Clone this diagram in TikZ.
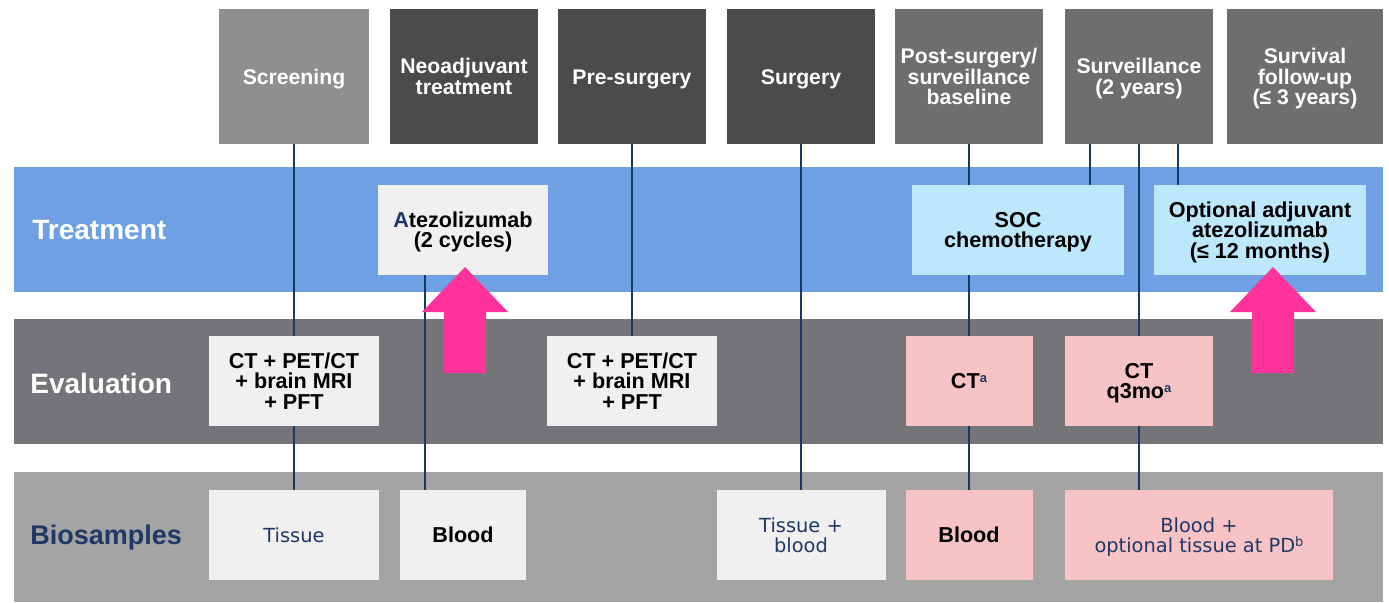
\documentclass[tikz,border=0pt]{standalone}
\usepackage{fontspec}
\setmainfont{Liberation Sans}
\newfontfamily\smpfont{DejaVu Sans}
\usetikzlibrary{positioning,calc}

\definecolor{hdlight}{HTML}{8E8F91}
\definecolor{hddark}{HTML}{4A4B4D}
\definecolor{hdmid}{HTML}{6D6E70}
\definecolor{trtblue}{HTML}{6FA0E4}
\definecolor{evgrey}{HTML}{747578}
\definecolor{biogrey}{HTML}{A4A4A4}
\definecolor{boxlight}{HTML}{F0F0F0}
\definecolor{boxcyan}{HTML}{BDE7FB}
\definecolor{boxpink}{HTML}{F7C3C5}
\definecolor{lnnavy}{HTML}{163A68}
\definecolor{txnavy}{HTML}{1F3864}
\definecolor{arrpink}{HTML}{FF3399}

\newcommand\hdfont{\fontsize{10.6}{10.3}\selectfont\bfseries}
\newcommand\bxfont{\fontsize{10.8}{10.3}\selectfont\bfseries}
\newcommand\bandfont{\fontsize{14}{16}\selectfont\bfseries}
\newcommand\supa[1]{\raisebox{3.2pt}{\fontsize{6.5}{6.5}\selectfont\textcolor{txnavy}{#1}}}
\newcommand\hstrut{\rule{0pt}{9.9pt}}

\begin{document}
\begin{tikzpicture}[x=0.5pt, y=-0.5pt,
  mid/.style={execute at begin node={\hstrut}, execute at end node={\rule[-2.3pt]{0pt}{2.3pt}}},
  hdr/.style={fill=#1, text=white, font=\hdfont, align=center, inner sep=0pt, outer sep=0pt, minimum width=74pt, minimum height=67.5pt, mid},
  cell/.style={fill=#1, font=\bxfont, align=center, inner sep=0pt, outer sep=0pt, minimum height=45pt, mid},
  smp/.style={text=txnavy, font=\smpfont\fontsize{9.7}{10.3}\selectfont},
  bandlbl/.style={font=\bandfont, anchor=west, inner sep=0pt},
  vline/.style={draw=lnnavy, line width=1.3pt},
  pinkarr/.style={fill=arrpink}
]
\useasboundingbox (0,0) rectangle (1389,602);

% bands
\fill[trtblue] (14,167) rectangle (1383,292);
\fill[evgrey] (14,319) rectangle (1383,444);
\fill[biogrey] (14,472) rectangle (1383,602);

\node[bandlbl, text=white] (trtlbl) at (32,230) {Treatment};
\node[bandlbl, text=white] (evlbl) at (30,383) {Evaluation};
\node[bandlbl, text=txnavy, font=\fontsize{13.5}{16}\selectfont\bfseries] (biolbl) at (30,538) {Biosamples};

% phases
\node[hdr=hdlight, minimum width=75pt] (scr) at (294,76.5) {Screening};
\node[hdr=hddark] (neo) at (464,76.5) {\hstrut Neoadjuvant\\treatment};
\node[hdr=hddark] (pre) at (632,76.5) {Pre-surgery};
\node[hdr=hddark] (surg) at (801,76.5) {Surgery};
\node[hdr=hdmid] (post) at (969,76.5) {\hstrut Post-surgery/\\surveillance\\baseline};
\node[hdr=hdmid] (surv) at (1139,76.5) {\hstrut Surveillance\\(2 years)};
\node[hdr=hdmid, minimum width=78pt] (fup) at (1305,76.5) {\hstrut Survival\\follow-up\\(≤ 3 years)};

% treatment row
\node[cell=boxlight, minimum width=85pt] (atz) at (463,230) {\hstrut\textcolor{txnavy}{A}tezolizumab\\(2 cycles)};
\node[cell=boxcyan, minimum width=106pt] (soc) at (1018,230) {\hstrut SOC\\chemotherapy};
\node[cell=boxcyan, minimum width=106pt] (opt) at (1260,230) {\hstrut Optional adjuvant\\atezolizumab\\(≤ 12 months)};

% evaluation row
\node[cell=boxlight, minimum width=85pt] (ev1) at (294,381) {\hstrut CT + PET/CT\\+ brain MRI\\+ PFT};
\node[cell=boxlight, minimum width=85pt] (ev2) at (632,381) {\hstrut CT + PET/CT\\+ brain MRI\\+ PFT};
\node[cell=boxpink, minimum width=63.5pt] (cta) at (969,381) {CT\supa{a}};
\node[cell=boxpink, minimum width=74pt] (ctq) at (1139,381) {\hstrut CT\\q3mo\supa{a}};

% biosamples row
\node[cell=boxlight, minimum width=85pt, smp] (tis) at (294,535) {Tissue};
\node[cell=boxlight, minimum width=63pt] (bl1) at (463,535) {Blood};
\node[cell=boxlight, minimum width=84.5pt, smp] (tb) at (801,535) {\hstrut Tissue +\\blood};
\node[cell=boxpink, minimum width=63.5pt] (bl2) at (969,535) {Blood};
\node[cell=boxpink, minimum width=134pt, smp] (bopt) at (1199,535) {\hstrut Blood +\\optional tissue at PD\supa{b}};

% timeline links
\draw[vline] (scr.south) -- (ev1.north);
\draw[vline] (ev1.south) -- (tis.north);
\draw[vline] ($(atz.south)+(-38,0)$) -- ($(bl1.north)+(-38,0)$);
\draw[vline] (pre.south) -- (ev2.north);
\draw[vline] (surg.south) -- (tb.north);
\draw[vline] (post.south) -- (post.south |- soc.north);
\draw[vline] (cta.north |- soc.south) -- (cta.north);
\draw[vline] (cta.south) -- (bl2.north);
\coordinate (survl) at ($(surv.south)+(-49,0)$);
\coordinate (survr) at ($(surv.south)+(39,0)$);
\draw[vline] (survl) -- (survl |- soc.north);
\draw[vline] (survr) -- (survr |- opt.north);
\draw[vline] (surv.south) -- (ctq.north);
\draw[vline] (ctq.south) -- (ctq.south |- bopt.north);

% start arrows
\foreach \tx in {465,1273}
  \fill[pinkarr] (\tx,267) -- ++(43,45) -- ++(-22,0) -- ++(0,61) -- ++(-42,0) -- ++(0,-61) -- ++(-22,0) -- cycle;
\end{tikzpicture}
\end{document}
